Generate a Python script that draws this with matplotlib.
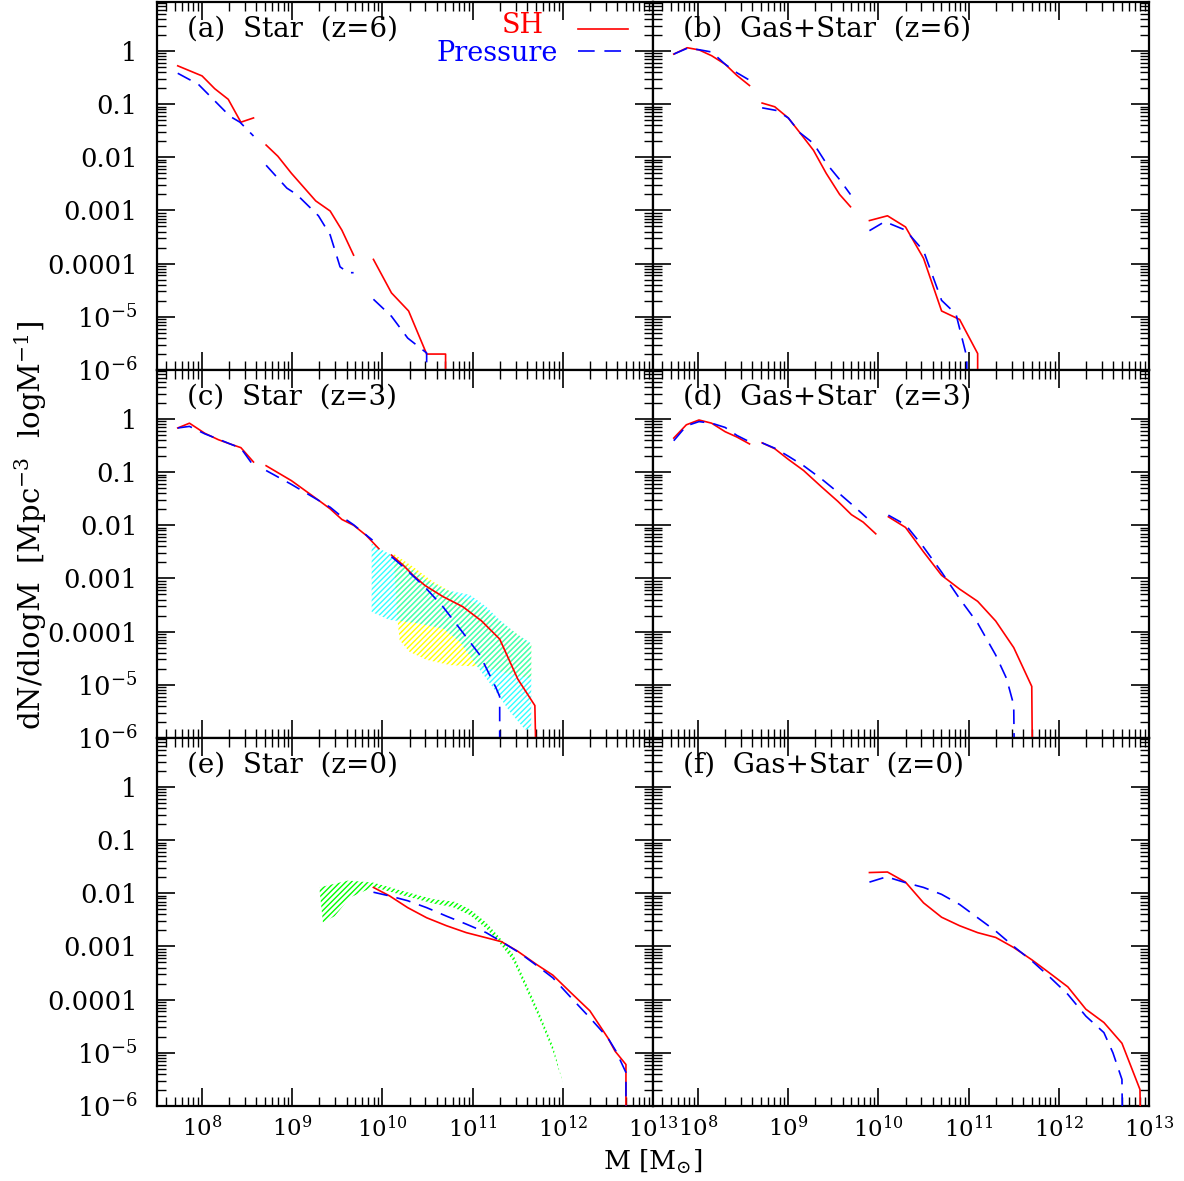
import numpy as np
import matplotlib
matplotlib.use('Agg')
import matplotlib.pyplot as plt
from matplotlib.ticker import FixedLocator, FixedFormatter, LogLocator, NullFormatter

plt.rcParams['font.family'] = ['DejaVu Serif']
plt.rcParams['mathtext.fontset'] = 'dejavuserif'
plt.rcParams['hatch.linewidth'] = 1.0
plt.rcParams['lines.scale_dashes'] = False

# log10(M) and log10(dN/dlogM) of each piece of the curves (gaps between pieces)
# (a) Star z=6
a_sh_m = [[7.73, 8.00, 8.14, 8.29, 8.43, 8.57],
          [8.71, 8.84, 8.99, 9.26, 9.42, 9.55, 9.68],
          [9.90, 10.10, 10.29, 10.49, 10.70, 10.70]]
a_sh_n = [[-0.28, -0.47, -0.71, -0.91, -1.34, -1.26],
          [-1.77, -1.98, -2.30, -2.82, -3.01, -3.37, -3.84],
          [-3.92, -4.55, -4.89, -5.70, -5.70, -7.0]]
a_pr_m = [[7.73, 7.96, 8.31, 8.42, 8.57],
          [8.71, 8.94, 9.05, 9.29, 9.42, 9.53, 9.62, 9.68],
          [9.90, 10.10, 10.28, 10.49, 10.49]]
a_pr_n = [[-0.42, -0.63, -1.23, -1.34, -1.60],
          [-2.15, -2.58, -2.70, -3.10, -3.46, -4.06, -4.17, -4.17],
          [-4.67, -4.99, -5.40, -5.68, -7.0]]

# (b) Gas+Star z=6
b_sh_m = [[7.73, 7.88, 8.01, 8.15, 8.30, 8.43, 8.57],
          [8.71, 8.85, 9.00, 9.13, 9.28, 9.42, 9.57, 9.69],
          [9.90, 10.10, 10.30, 10.50, 10.70, 10.90, 11.10, 11.10]]
b_sh_n = [[-0.06, 0.06, 0.02, -0.09, -0.25, -0.46, -0.65],
          [-0.98, -1.05, -1.26, -1.54, -1.87, -2.30, -2.70, -2.93],
          [-3.19, -3.10, -3.31, -3.90, -4.89, -5.05, -5.69, -7.0]]
b_pr_m = [[7.73, 7.88, 8.02, 8.15, 8.30, 8.43, 8.57],
          [8.71, 8.87, 9.00, 9.13, 9.28, 9.42, 9.57, 9.69],
          [9.90, 10.07, 10.30, 10.50, 10.70, 10.86, 10.98, 10.98]]
b_pr_n = [[-0.06, 0.05, 0.02, -0.02, -0.25, -0.41, -0.55],
          [-1.07, -1.12, -1.26, -1.54, -1.74, -2.11, -2.42, -2.70],
          [-3.38, -3.21, -3.37, -3.76, -4.69, -4.95, -5.76, -7.0]]

# (c) Star z=3
c_sh_m = [[7.73, 7.86, 8.03, 8.18, 8.31, 8.43, 8.57],
          [8.71, 8.99, 9.26, 9.42, 9.55, 9.68, 9.82, 9.96],
          [10.10, 10.23, 10.34, 10.47, 10.67, 10.89, 11.10, 11.30, 11.50, 11.69, 11.71]]
c_sh_n = [[-0.17, -0.08, -0.27, -0.39, -0.47, -0.54, -0.81],
          [-0.88, -1.16, -1.49, -1.69, -1.89, -2.00, -2.19, -2.44],
          [-2.56, -2.75, -2.94, -3.13, -3.34, -3.53, -3.80, -4.14, -4.89, -5.39, -7.0]]
c_pr_m = [[7.73, 7.86, 8.03, 8.18, 8.31, 8.43, 8.57],
          [8.71, 8.99, 9.26, 9.42, 9.55, 9.68, 9.89],
          [10.10, 10.23, 10.47, 10.67, 10.87, 11.08, 11.26, 11.30, 11.30]]
c_pr_n = [[-0.17, -0.14, -0.28, -0.38, -0.47, -0.55, -0.88],
          [-0.97, -1.23, -1.50, -1.66, -1.84, -1.99, -2.28],
          [-2.59, -2.78, -3.16, -3.53, -3.97, -4.44, -5.06, -5.22, -7.0]]

# observed ranges at z=3
cyan_m = [9.88, 9.97, 10.10, 10.49, 10.71, 10.97, 11.15, 11.30, 11.48, 11.65,
          11.65, 11.58, 11.41, 11.23, 11.04, 10.86, 10.67, 10.38, 10.08, 9.88]
cyan_n = [-2.34, -2.44, -2.56, -3.03, -3.22, -3.31, -3.53, -3.78, -4.03, -4.22,
          -5.84, -5.84, -5.50, -5.06, -4.63, -4.19, -3.94, -3.84, -3.78, -3.63]
yellow_m = [10.12, 10.34, 10.56, 10.82, 11.08, 11.30, 11.48, 11.65,
            11.65, 11.45, 11.11, 10.75, 10.49, 10.30, 10.19, 10.17]
yellow_n = [-2.53, -2.78, -3.06, -3.31, -3.50, -3.81, -4.03, -4.25,
            -4.88, -4.81, -4.66, -4.63, -4.53, -4.38, -4.16, -3.84]

# (d) Gas+Star z=3
d_sh_m = [[7.73, 7.87, 8.01, 8.15, 8.30, 8.43, 8.57],
          [8.71, 8.85, 9.00, 9.17, 9.37, 9.55, 9.70, 9.83, 9.97],
          [10.11, 10.30, 10.50, 10.70, 10.90, 11.10, 11.30, 11.50, 11.70, 11.71]]
d_sh_n = [[-0.36, -0.11, -0.02, -0.08, -0.24, -0.34, -0.47],
          [-0.45, -0.56, -0.76, -0.97, -1.28, -1.55, -1.80, -1.94, -2.16],
          [-1.84, -2.04, -2.50, -2.94, -3.20, -3.43, -3.80, -4.30, -5.03, -7.0]]
d_pr_m = [[7.73, 7.87, 8.01, 8.15, 8.30, 8.43, 8.57],
          [8.71, 8.85, 9.00, 9.17, 9.37, 9.55, 9.72, 9.87],
          [10.11, 10.30, 10.50, 10.70, 10.90, 11.10, 11.30, 11.42, 11.50, 11.51]]
d_pr_n = [[-0.41, -0.13, -0.05, -0.08, -0.16, -0.31, -0.43],
          [-0.45, -0.55, -0.70, -0.88, -1.13, -1.38, -1.63, -1.86],
          [-1.81, -1.99, -2.41, -2.88, -3.38, -3.84, -4.44, -4.88, -5.38, -7.0]]

# (e) Star z=0
e_sh_m = [[9.90, 10.08, 10.28, 10.49, 10.71, 10.93, 11.32, 11.50, 11.71,
           11.89, 12.09, 12.30, 12.50, 12.58, 12.70, 12.70]]
e_sh_n = [[-1.89, -2.05, -2.27, -2.46, -2.61, -2.74, -2.91, -3.09, -3.34,
           -3.54, -3.87, -4.21, -4.72, -4.97, -5.22, -7.0]]
e_pr_m = [[9.90, 10.08, 10.28, 10.49, 10.71, 10.93, 11.15, 11.32, 11.52,
           11.72, 11.89, 12.09, 12.30, 12.50, 12.59, 12.70, 12.70]]
e_pr_n = [[-1.98, -2.05, -2.14, -2.27, -2.43, -2.58, -2.74, -2.91, -3.12,
           -3.37, -3.59, -3.96, -4.34, -4.72, -4.97, -5.37, -7.0]]

# observed range at z=0
green_m = [9.30, 9.62, 9.90, 10.23, 10.56, 10.80, 10.97, 11.15, 11.30, 11.45,
           11.59, 11.74, 11.89, 12.00,
           11.89, 11.74, 11.59, 11.45, 11.30, 11.15, 10.97, 10.78, 10.56, 10.23,
           9.90, 9.64, 9.47, 9.34]
green_n = [-1.89, -1.76, -1.80, -1.96, -2.11, -2.16, -2.30, -2.55, -2.83, -3.15,
           -3.68, -4.25, -4.87, -5.56,
           -4.97, -4.36, -3.79, -3.27, -2.94, -2.66, -2.41, -2.26, -2.19, -2.04,
           -1.88, -2.08, -2.43, -2.55]

# (f) Gas+Star z=0
f_sh_m = [[9.90, 10.10, 10.30, 10.50, 10.70, 10.90, 11.10, 11.30, 11.50,
           11.70, 11.89, 12.10, 12.30, 12.50, 12.70, 12.90, 12.91]]
f_sh_n = [[-1.61, -1.60, -1.79, -2.18, -2.45, -2.61, -2.74, -2.83, -3.02,
           -3.25, -3.49, -3.76, -4.18, -4.43, -4.82, -5.69, -7.0]]
f_pr_m = [[9.90, 10.09, 10.30, 10.50, 10.70, 10.90, 11.10, 11.30, 11.50,
           11.70, 11.89, 12.10, 12.30, 12.50, 12.60, 12.70, 12.71]]
f_pr_n = [[-1.79, -1.69, -1.80, -1.89, -2.02, -2.21, -2.46, -2.71, -3.00,
           -3.27, -3.56, -3.90, -4.31, -4.62, -5.00, -5.50, -7.0]]

titles = ['(a)  Star  (z=6)', '(b)  Gas+Star  (z=6)', '(c)  Star  (z=3)',
          '(d)  Gas+Star  (z=3)', '(e)  Star  (z=0)', '(f)  Gas+Star  (z=0)']
ytick_vals = [1, 0.1, 0.01, 0.001, 0.0001, 1e-5, 1e-6]
ytick_labels = ['1', '0.1', '0.01', '0.001', '0.0001', r'$10^{-5}$', r'$10^{-6}$']
xtick_vals = [1e8, 1e9, 1e10, 1e11, 1e12, 1e13]
xtick_labels = [r'$10^{8}$', r'$10^{9}$', r'$10^{10}$', r'$10^{11}$', r'$10^{12}$', r'$10^{13}$']

panels = [(a_sh_m, a_sh_n, a_pr_m, a_pr_n), (b_sh_m, b_sh_n, b_pr_m, b_pr_n),
          (c_sh_m, c_sh_n, c_pr_m, c_pr_n), (d_sh_m, d_sh_n, d_pr_m, d_pr_n),
          (e_sh_m, e_sh_n, e_pr_m, e_pr_n), (f_sh_m, f_sh_n, f_pr_m, f_pr_n)]

fig = plt.figure(figsize=(11.84, 11.81), dpi=100)
lefts = [157 / 1184, 653 / 1184]
bottoms = [0.6867, 0.3751, 0.0635]
w, h = 496 / 1184, 0.3116
dash = (10.5, 6.5)

axes = []
for i in range(6):
    row, col = divmod(i, 2)
    ax = fig.add_axes([lefts[col], bottoms[row], w, h])
    axes.append(ax)
    ax.set_xscale('log')
    ax.set_yscale('log')
    ax.set_xlim(10**7.5, 1e13)
    ax.set_ylim(1e-6, 10**0.92)

    sh_m, sh_n, pr_m, pr_n = panels[i]
    for m, n in zip(sh_m, sh_n):
        ax.plot(10**np.array(m), 10**np.array(n), color='red', lw=1.2, zorder=3)
    for m, n in zip(pr_m, pr_n):
        ax.plot(10**np.array(m), 10**np.array(n), color='blue', lw=1.2,
                linestyle=(0, dash), zorder=3)

    ax.xaxis.set_major_locator(FixedLocator(xtick_vals))
    ax.xaxis.set_minor_locator(LogLocator(base=10, subs=np.arange(2, 10), numticks=20))
    ax.yaxis.set_major_locator(FixedLocator(ytick_vals))
    ax.yaxis.set_minor_locator(LogLocator(base=10, subs=np.arange(2, 10), numticks=20))
    ax.xaxis.set_minor_formatter(NullFormatter())
    ax.yaxis.set_minor_formatter(NullFormatter())
    if row == 2:
        ax.xaxis.set_major_formatter(FixedFormatter(xtick_labels))
    else:
        ax.xaxis.set_major_formatter(NullFormatter())
    if col == 0:
        ax.yaxis.set_major_formatter(FixedFormatter(ytick_labels))
    else:
        ax.yaxis.set_major_formatter(NullFormatter())

    ax.tick_params(which='both', direction='in', top=True, right=True)
    ax.tick_params(axis='y', labelsize=18.5, pad=14)
    ax.tick_params(axis='x', labelsize=16.5, pad=7)
    ax.tick_params(which='major', length=13, width=1.2)
    ax.tick_params(which='minor', length=6.5, width=1.0)
    for s in ax.spines.values():
        s.set_linewidth(1.6)
    ax.text(0.06, 0.926, titles[i], transform=ax.transAxes, fontsize=20,
            va='center', ha='left')

# observational bands
axes[2].fill(10**np.array(yellow_m), 10**np.array(yellow_n), facecolor='none',
             edgecolor='yellow', hatch='//////', lw=0, zorder=1)
axes[2].fill(10**np.array(cyan_m), 10**np.array(cyan_n), facecolor='none',
             edgecolor='cyan', hatch='//////', lw=0, alpha=0.8, zorder=2)
axes[4].fill(10**np.array(green_m), 10**np.array(green_n), facecolor='none',
             edgecolor='lime', hatch='//////', lw=0, zorder=1)

# legend in panel (a)
ax = axes[0]
ax.text(0.738, 0.936, 'SH', color='red', fontsize=19.5, ha='center', va='center',
        transform=ax.transAxes)
ax.text(0.685, 0.860, 'Pressure', color='blue', fontsize=19.5, ha='center', va='center',
        transform=ax.transAxes)
ax.plot([0.849, 0.950], [0.926, 0.926], color='red', lw=1.2, transform=ax.transAxes)
ax.plot([0.849, 0.945], [0.866, 0.866], color='blue', lw=1.2, linestyle=(0, (12, 7)),
        transform=ax.transAxes)

fig.text(0.026, 0.555, r'dN/dlogM  [Mpc$^{-3}$  logM$^{-1}$]', rotation=90,
         fontsize=21, ha='center', va='center')
fig.text(0.551, 0.016, r'M [M$_{\odot}$]', fontsize=19, ha='center', va='center')

fig.savefig('out.png', dpi=100)
